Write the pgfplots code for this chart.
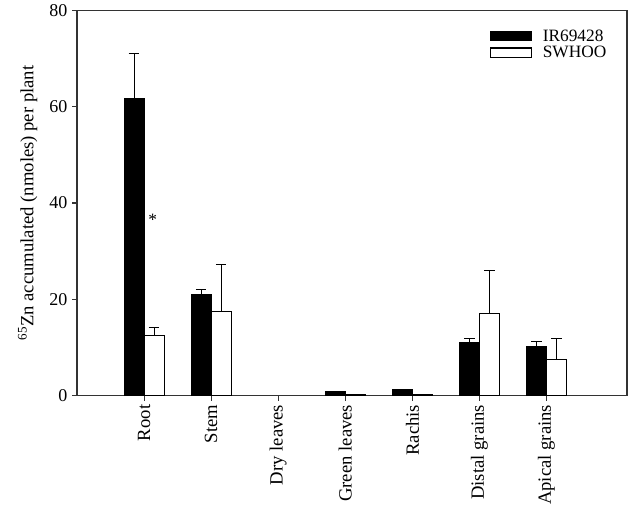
\documentclass[border=0pt]{standalone}
\usepackage{fontspec}
\setmainfont{Liberation Serif}
\usepackage{pgfplots}
\pgfplotsset{compat=1.18}
\begin{document}
\begin{tikzpicture}
\begin{axis}[
  width=412.5pt, height=288.75pt, scale only axis,
  xmin=-1, xmax=7.2, ymin=0, ymax=80,
  ybar=0pt, bar width=15pt,
  axis line style={line width=0.8pt, black!80},
  xtick={0,1,2,3,4,5,6},
  xticklabels={Root,Stem,Dry leaves,Green leaves,Rachis,Distal grains,Apical grains},
  xticklabel style={rotate=90, anchor=east, font=\fontsize{14}{16}\selectfont, inner sep=3pt},
  ytick={0,20,40,60,80},
  yticklabel style={font=\fontsize{13.5}{15}\selectfont},
  /pgf/number format/assume math mode=true,
  tick align=outside, xtick pos=bottom, ytick pos=left,
  major tick length=3.75pt,
  tick style={line width=0.8pt, black!80},
  ylabel={\textsuperscript{65}Zn accumulated (nmoles) per plant},
  ylabel style={font=\fontsize{14}{16}\selectfont, yshift=2pt},
  legend style={draw=none, fill=none, at={(0.975,0.965)}, anchor=north east,
    font=\fontsize{13}{13}\selectfont, row sep=-2pt, cells={anchor=west}},
  legend image code/.code={\draw[#1, line width=0.8pt] (-8pt,-3.4pt) rectangle (23pt,3.4pt); \path (29pt,0pt);},
  error bars/error bar style={line width=0.8pt, black},
  error bars/error mark options={rotate=90, line width=0.8pt, mark size=4pt, black},
]
\addplot[fill=black, draw=black, line width=0.8pt,
  error bars/.cd, y dir=plus, y explicit]
  coordinates {
    (0,61.8) +- (0,9.2)
    (1,20.9) +- (0,1.1)
    (3,0.9) +- (0,0)
    (4,1.2) +- (0,0)
    (5,11.1) +- (0,0.8)
    (6,10.2) +- (0,1.1)
  };
\addplot[fill=white, draw=black, line width=0.8pt,
  error bars/.cd, y dir=plus, y explicit]
  coordinates {
    (0,12.5) +- (0,1.6)
    (1,17.5) +- (0,9.8)
    (3,0.2) +- (0,0)
    (4,0.3) +- (0,0)
    (5,17.0) +- (0,9.0)
    (6,7.4) +- (0,4.4)
  };
\legend{IR69428,SWHOO}
\node[font=\fontsize{13}{13}\selectfont] at (axis cs:0.13,36.5) {*};
\end{axis}
\useasboundingbox ([xshift=-57.75pt,yshift=-85.5pt]current axis.south west) rectangle ([xshift=2.25pt,yshift=7.5pt]current axis.north east);
\end{tikzpicture}
\end{document}
